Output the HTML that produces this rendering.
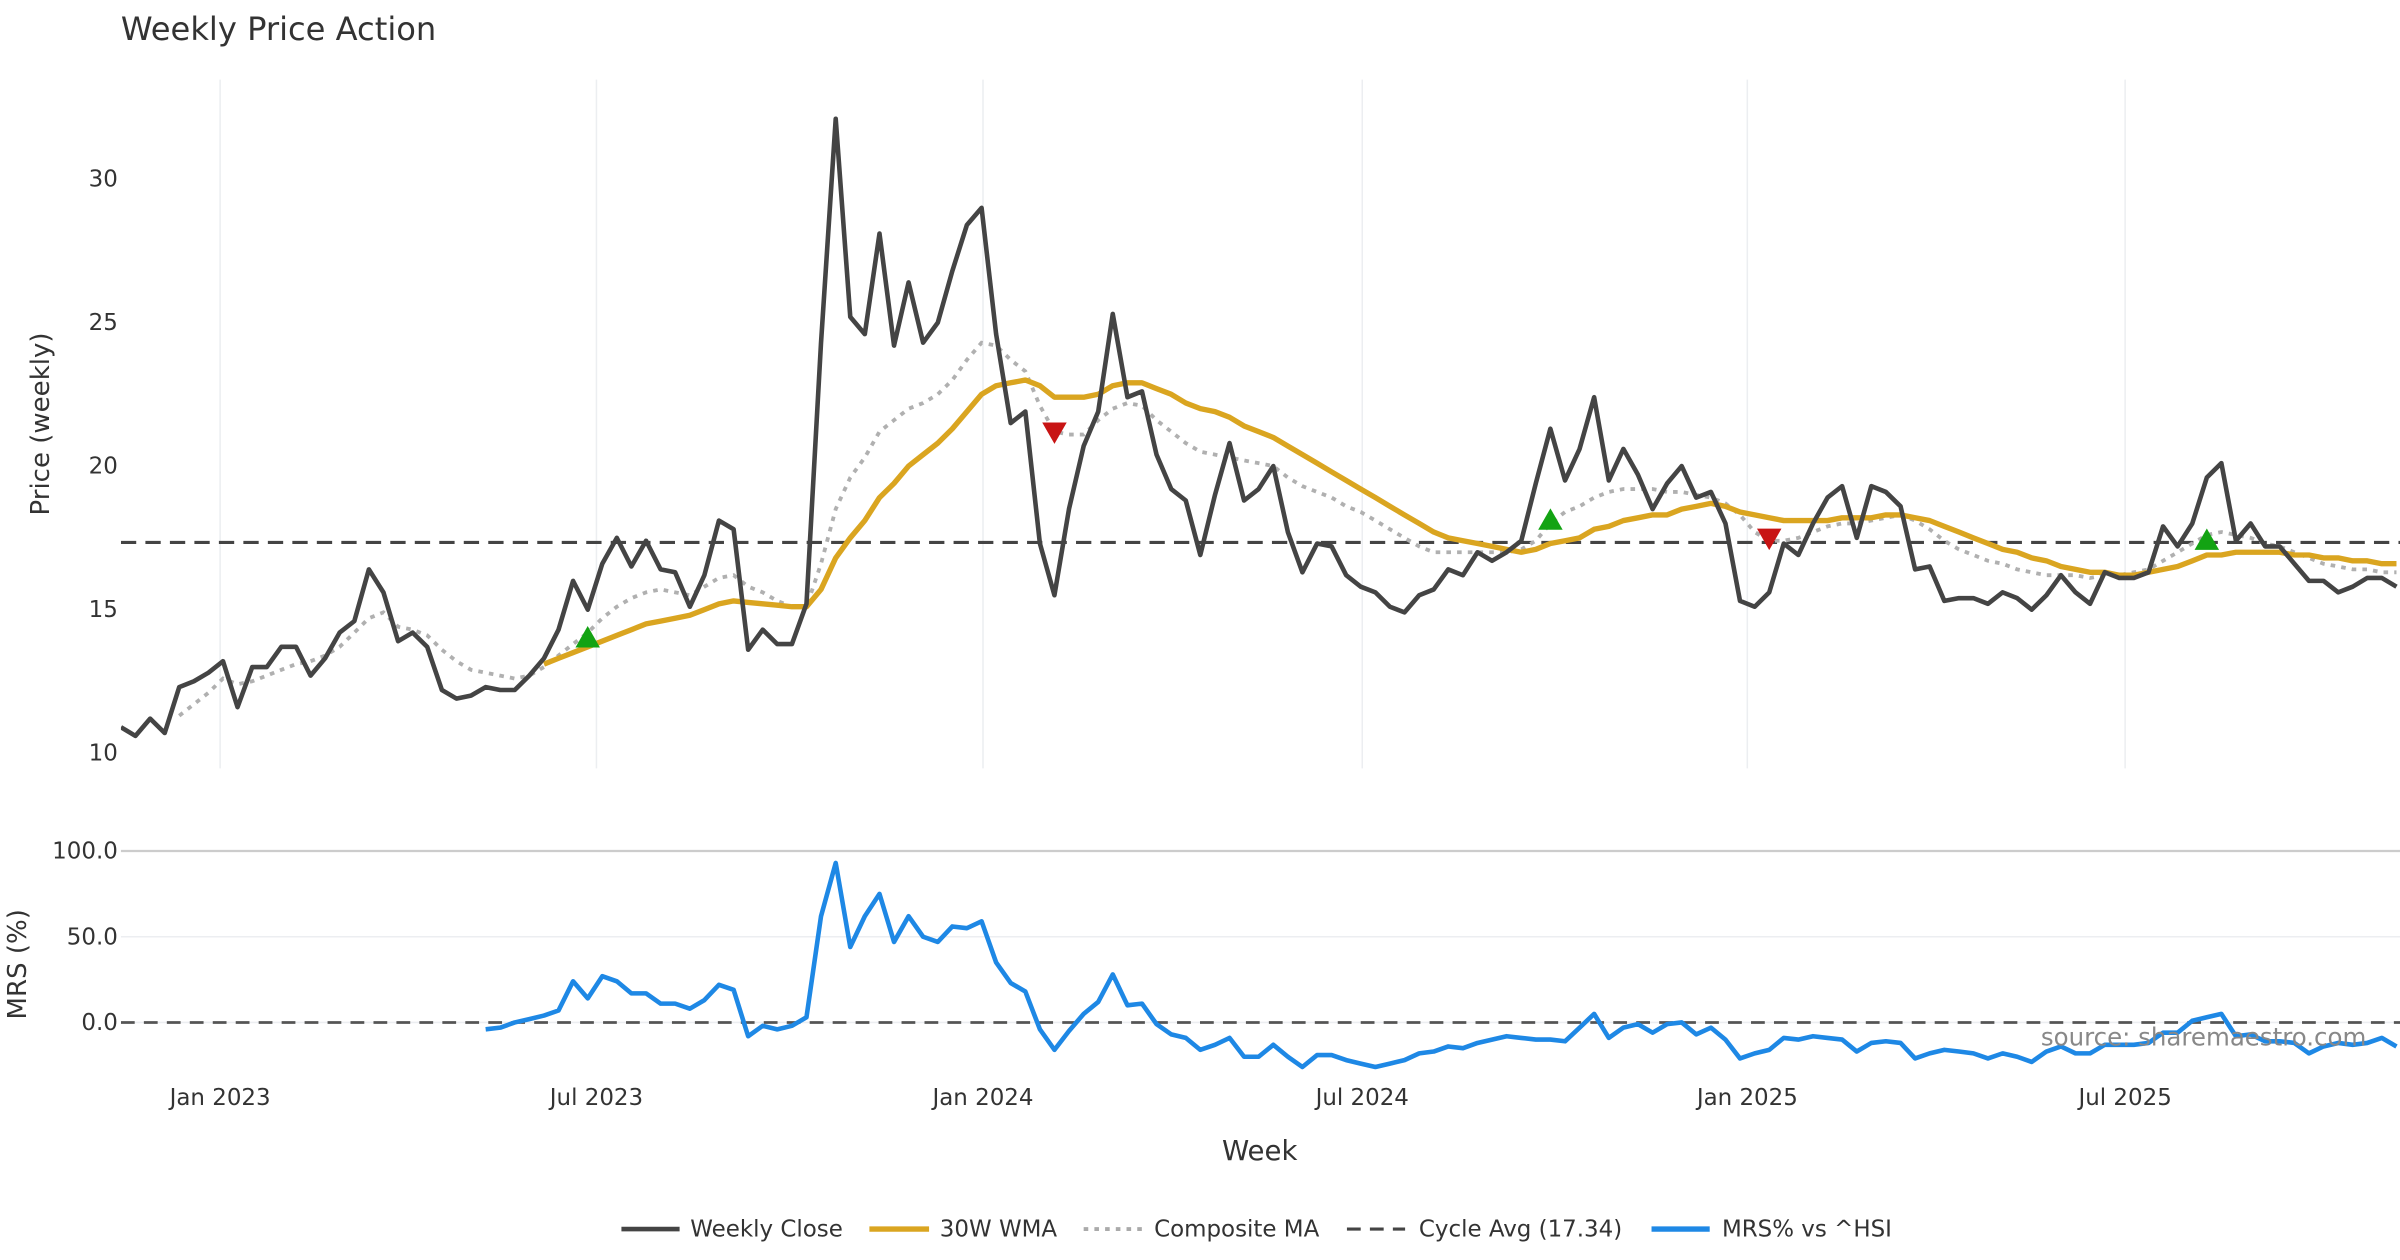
<!DOCTYPE html>
<html><head><meta charset="utf-8"><style>
html,body{margin:0;padding:0;background:#fff}
svg{display:block;font-family:"DejaVu Sans","Liberation Sans",sans-serif}
</style></head><body>
<svg id="chart" width="2400" height="1260" viewBox="0 0 1568 823.2" xmlns="http://www.w3.org/2000/svg">
<rect width="1568" height="823.2" fill="#fff"/>
<text x="79" y="26" font-size="21" fill="#333">Weekly Price Action</text>
<text transform="translate(32,277) rotate(-90)" text-anchor="middle" font-size="17" fill="#333">Price (weekly)</text>
<text transform="translate(17,630) rotate(-90)" text-anchor="middle" font-size="17" fill="#333">MRS (%)</text>
<text x="823" y="758" text-anchor="middle" font-size="18" fill="#333">Week</text>
<g id="grid"></g>
<g id="marks"></g>
<text x="1546" y="683" text-anchor="end" font-size="16" fill="#888">source: sharemaestro.com</text>
<g id="legend" font-size="15" fill="#333">
  <g><line x1="406" y1="803" x2="444" y2="803" stroke="#444" stroke-width="3"/><text x="451" y="808">Weekly Close</text></g>
  <g><line x1="568" y1="803" x2="607" y2="803" stroke="#DAA520" stroke-width="3.5"/><text x="614" y="808">30W WMA</text></g>
  <g><line x1="708" y1="803" x2="746" y2="803" stroke="#aaa" stroke-width="2.5" stroke-dasharray="3,4"/><text x="754" y="808">Composite MA</text></g>
  <g><line x1="880" y1="803" x2="918" y2="803" stroke="#444" stroke-width="2" stroke-dasharray="9,6"/><text x="927" y="808">Cycle Avg (17.34)</text></g>
  <g><line x1="1079" y1="803" x2="1117" y2="803" stroke="#1E88E5" stroke-width="3.5"/><text x="1125" y="808">MRS% vs ^HSI</text></g>
</g>
</svg>
<script>
const closes=[10.9,10.6,11.2,10.7,12.3,12.5,12.8,13.2,11.6,13.0,
13.0,13.7,13.7,12.7,13.3,14.2,14.6,16.4,15.6,13.9,
14.2,13.7,12.2,11.9,12.0,12.3,12.2,12.2,12.7,13.3,
14.3,16.0,15.0,16.6,17.5,16.5,17.4,16.4,16.3,15.1,
16.2,18.1,17.8,13.6,14.3,13.8,13.8,15.2,24.3,32.1,
25.2,24.6,28.1,24.2,26.4,24.3,25.0,26.8,28.4,29.0,
24.6,21.5,21.9,17.3,15.5,18.5,20.7,21.9,25.3,22.4,
22.6,20.4,19.2,18.8,16.9,19.0,20.8,18.8,19.2,20.0,
17.7,16.3,17.3,17.2,16.2,15.8,15.6,15.1,14.9,15.5,
15.7,16.4,16.2,17.0,16.7,17.0,17.4,19.4,21.3,19.5,
20.6,22.4,19.5,20.6,19.7,18.5,19.4,20.0,18.9,19.1,
18.0,15.3,15.1,15.6,17.3,16.9,18.0,18.9,19.3,17.5,
19.3,19.1,18.6,16.4,16.5,15.3,15.4,15.4,15.2,15.6,
15.4,15.0,15.5,16.2,15.6,15.2,16.3,16.1,16.1,16.3,
17.9,17.2,18.0,19.6,20.1,17.4,18.0,17.2,17.2,16.6,
16.0,16.0,15.6,15.8,16.1,16.1,15.8];
const wma=[null,null,null,null,null,null,null,null,null,null,
null,null,null,null,null,null,null,null,null,null,
null,null,null,null,null,null,null,null,null,13.1,
13.3,13.5,13.7,13.9,14.1,14.3,14.5,14.6,14.7,14.8,
15.0,15.2,15.3,15.25,15.2,15.15,15.1,15.1,15.7,16.8,
17.5,18.1,18.9,19.4,20.0,20.4,20.8,21.3,21.9,22.5,
22.8,22.9,23.0,22.8,22.4,22.4,22.4,22.5,22.8,22.9,
22.9,22.7,22.5,22.2,22.0,21.9,21.7,21.4,21.2,21.0,
20.7,20.4,20.1,19.8,19.5,19.2,18.9,18.6,18.3,18.0,
17.7,17.5,17.4,17.3,17.2,17.1,17.0,17.1,17.3,17.4,
17.5,17.8,17.9,18.1,18.2,18.3,18.3,18.5,18.6,18.7,
18.6,18.4,18.3,18.2,18.1,18.1,18.1,18.1,18.2,18.2,
18.2,18.3,18.3,18.2,18.1,17.9,17.7,17.5,17.3,17.1,
17.0,16.8,16.7,16.5,16.4,16.3,16.3,16.2,16.2,16.3,
16.4,16.5,16.7,16.9,16.9,17.0,17.0,17.0,17.0,16.9,
16.9,16.8,16.8,16.7,16.7,16.6,16.6];
const composite=[null,null,null,null,11.3,11.7,12.1,12.6,12.4,12.5,
12.7,12.9,13.1,13.2,13.4,13.7,14.2,14.7,14.9,14.4,
14.3,14.1,13.6,13.2,12.9,12.8,12.7,12.6,12.7,13.0,
13.4,13.8,14.2,14.7,15.1,15.4,15.6,15.7,15.6,15.5,
15.8,16.1,16.2,15.8,15.6,15.3,15.1,15.1,16.6,18.5,
19.6,20.3,21.2,21.6,22.0,22.2,22.5,23.0,23.7,24.3,
24.2,23.7,23.3,22.1,21.2,21.1,21.1,21.6,22.0,22.2,
22.1,21.6,21.2,20.8,20.5,20.4,20.3,20.2,20.1,20.0,
19.6,19.3,19.1,18.9,18.6,18.4,18.1,17.8,17.5,17.2,
17.0,17.0,17.0,17.0,17.0,17.0,17.1,17.4,18.0,18.4,
18.6,18.9,19.1,19.2,19.2,19.2,19.1,19.1,19.0,18.9,
18.7,18.3,17.7,17.4,17.4,17.5,17.7,17.9,18.0,18.0,
18.1,18.2,18.3,18.1,17.8,17.4,17.1,16.9,16.7,16.6,
16.4,16.3,16.2,16.2,16.2,16.1,16.2,16.2,16.3,16.4,
16.7,17.0,17.3,17.6,17.7,17.6,17.5,17.3,17.2,17.0,
16.8,16.6,16.5,16.4,16.4,16.3,16.3];
const mrs=[null,null,null,null,null,null,null,null,null,null,
null,null,null,null,null,null,null,null,null,null,
null,null,null,null,null,-4,-3,0,2,4,
7,24,14,27,24,17,17,11,11,8,
13,22,19,-8,-2,-4,-2,3,62,93,
44,62,75,47,62,50,47,56,55,59,
35,23,18,-4,-16,-5,5,12,28,10,
11,-1,-7,-9,-16,-13,-9,-20,-20,-13,
-20,-26,-19,-19,-22,-24,-26,-24,-22,-18,
-17,-14,-15,-12,-10,-8,-9,-10,-10,-11,
-3,5,-9,-3,-1,-6,-1,0,-7,-3,
-10,-21,-18,-16,-9,-10,-8,-9,-10,-17,
-12,-11,-12,-21,-18,-16,-17,-18,-21,-18,
-20,-23,-17,-14,-18,-18,-13,-13,-13,-12,
-6,-6,1,3,5,-8,-7,-11,-11,-12,
-18,-14,-12,-13,-12,-9,-14];
const cycleAvg=17.34;
const buyIdx=[32,98,143];
const buyVal=[14.0,18.1,17.4];
const sellIdx=[64,113];
const sellVal=[21.2,17.5];
const priceTicks=[10,15,20,25,30];
const mrsTicks=[0,50,100];
const mrsTickLabels=["0.0","50.0","100.0"];
const dateLabels=["Jan 2023","Jul 2023","Jan 2024","Jul 2024","Jan 2025","Jul 2025"];
const dateIdx=[6.8,32.6,59.1,85.1,111.5,137.4];

const NS="http://www.w3.org/2000/svg";
const X0=79,STEP=9.53,XR=1568;
const xs=i=>X0+i*STEP;
const yp=v=>492-(v-10)*18.75;
const ym=v=>668-v*1.12;
const grid=document.getElementById('grid'),marks=document.getElementById('marks');
function mk(tag,attrs,parent){const e=document.createElementNS(NS,tag);for(const k in attrs)e.setAttribute(k,attrs[k]);parent.appendChild(e);return e;}
function path(arr,yf){let d='',pen=false;arr.forEach((v,i)=>{if(v==null){pen=false;return;}d+=(pen?'L':'M')+xs(i).toFixed(1)+' '+yf(v).toFixed(1);pen=true;});return d;}

dateIdx.forEach((di,k)=>{
  const g=mk('line',{x1:xs(di),x2:xs(di),y1:52,y2:502,stroke:'#eceef1','stroke-width':1},grid);
  
  
  const t=mk('text',{x:xs(di),y:722,'text-anchor':'middle','font-size':15,fill:'#333'},grid);
  t.textContent=dateLabels[k];
  
  
});
priceTicks.forEach(v=>{
  const t=mk('text',{x:77,y:yp(v)+5,'text-anchor':'end','font-size':15,fill:'#333'},grid);
  t.textContent=v;
  
  
});
mrsTicks.forEach((v,k)=>{
  const l=mk('line',{x1:X0,x2:XR,y1:ym(v),y2:ym(v),stroke:v===100?'#ccc':'#eceef1','stroke-width':v===100?1.5:1},grid);
  
  
  const t=mk('text',{x:77,y:ym(v)+5,'text-anchor':'end','font-size':15,fill:'#333'},grid);
  t.textContent=mrsTickLabels[k];
  
  
});
const clip=mk('clipPath',{id:'cp'},mk('defs',{},marks));mk('rect',{x:X0,y:40,width:XR-X0,height:700},clip);
const G=mk('g',{'clip-path':'url(#cp)'},marks);

let e=mk('line',{x1:X0,x2:XR,y1:ym(0),y2:ym(0),stroke:'#555','stroke-width':1.8,'stroke-dasharray':'9,6'},G);


e=mk('line',{x1:X0,x2:XR,y1:yp(cycleAvg),y2:yp(cycleAvg),stroke:'#444','stroke-width':2,'stroke-dasharray':'10,6'},G);


e=mk('path',{d:path(composite,yp),fill:'none',stroke:'#b0b0b0','stroke-width':2.5,'stroke-dasharray':'3,4'},G);


e=mk('path',{d:path(wma,yp),fill:'none',stroke:'#DAA520','stroke-width':3.5,'stroke-linejoin':'round'},G);


e=mk('path',{d:path(closes,yp),fill:'none',stroke:'#444','stroke-width':3,'stroke-linejoin':'round'},G);


e=mk('path',{d:path(mrs,ym),fill:'none',stroke:'#1E88E5','stroke-width':3,'stroke-linejoin':'round'},G);


buyIdx.forEach((i,k)=>{const x=xs(i),y=yp(buyVal[k]);
  const t=mk('polygon',{points:`${x-8},${y+6} ${x+8},${y+6} ${x},${y-8}`,fill:'#13a313'},G);
  
  });
sellIdx.forEach((i,k)=>{const x=xs(i),y=yp(sellVal[k]);
  const t=mk('polygon',{points:`${x-8},${y-6} ${x+8},${y-6} ${x},${y+8}`,fill:'#c81414'},G);
  
  });
</script>
</body></html>
